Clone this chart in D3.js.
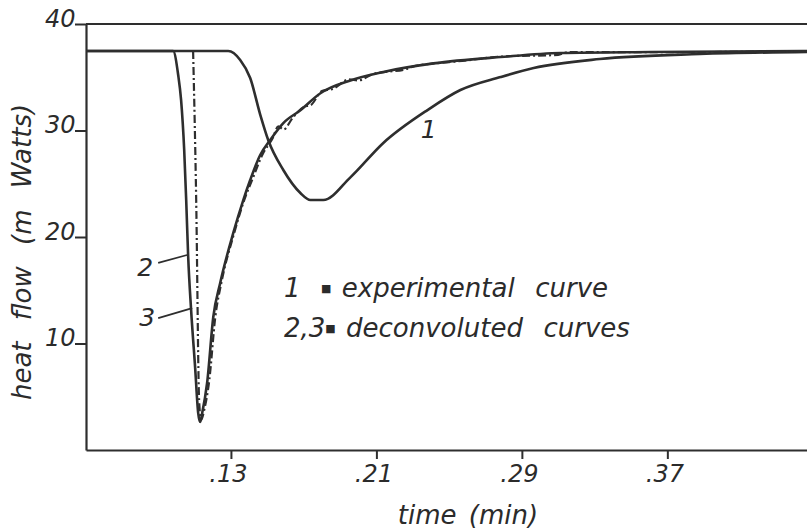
<!DOCTYPE html>
<html>
<head>
<meta charset="utf-8">
<script src="https://cdn.jsdelivr.net/npm/d3@7"></script>
<style>
  body { margin: 0; background: #fff; }
  text { font-family: "DejaVu Sans", sans-serif; font-style: italic; fill: #2b2b2b; }
</style>
</head>
<body>
<script>
// values: time (min), heat flow (mW)
var xTicks = [0.13, 0.21, 0.29, 0.37];
var yTicks = [10, 20, 30, 40];

// curve 1 - experimental
var expTime = [0.0503, 0.1285, 0.1351, 0.1406, 0.1461, 0.1505, 0.1588, 0.1682, 0.1737, 0.1808, 0.1957, 0.2138, 0.2381, 0.2562, 0.2783, 0.2965, 0.3328, 0.3879, 0.4468];
var expFlow = [37.46, 37.46, 36.62, 34.93, 31.5, 29.11, 26.29, 24.13, 23.47, 23.47, 25.6, 28.83, 31.92, 33.8, 35.02, 35.87, 36.71, 37.18, 37.37];

// curve 2 - deconvoluted (solid)
var dec2Time = [0.0503, 0.0982, 0.1010, 0.1026, 0.1043, 0.1054, 0.1065, 0.1081, 0.1103, 0.1120, 0.1131, 0.1142, 0.1169, 0.1203, 0.1241, 0.1313, 0.1368, 0.1406, 0.1461, 0.1516, 0.1588, 0.1682, 0.1792, 0.1957, 0.2138, 0.2414, 0.2783, 0.3113, 0.3609, 0.4468];
var dec2Flow = [37.46, 37.46, 35.21, 32.86, 28.17, 23.47, 18.12, 13.15, 7.79, 3.47, 2.63, 3.47, 6.29, 12.49, 15.68, 20.38, 23.47, 25.35, 27.7, 29.11, 30.7, 31.9, 33.5, 34.7, 35.5, 36.3, 36.9, 37.28, 37.37, 37.46];

// curve 3 - deconvoluted (dash-dot), noisy on the way back up
var dec3Time = [0.1092, 0.1109, 0.1125, 0.1136, 0.1153, 0.1181, 0.1214, 0.1247, 0.1318, 0.1373, 0.1420, 0.1475, 0.1530, 0.1560, 0.1590, 0.1640, 0.1700, 0.1740, 0.1800, 0.1860, 0.1950, 0.2000, 0.2080, 0.2150, 0.2250, 0.2300, 0.2420, 0.2550, 0.2800, 0.3100, 0.3150, 0.3650, 0.4468];
var dec3Flow = [37.46, 23.47, 4.69, 2.82, 3.76, 6.57, 12.49, 15.68, 20.38, 23.47, 25.5, 27.8, 29.3, 30.4, 30.1, 31.2, 32.2, 32.4, 33.7, 33.9, 34.8, 34.7, 35.3, 35.5, 35.7, 36.0, 36.3, 36.5, 36.95, 37.1, 37.35, 37.35, 37.46];

var svg = d3.select("body").append("svg")
  .attr("width", 807)
  .attr("height", 530);

var x = d3.scaleLinear().domain([0.0503, 0.4468]).range([86, 807]);
var y = d3.scaleLinear().domain([0, 40]).range([450, 24]);

var ink = "#2e2e2e";

// frame: top line
svg.append("line")
  .attr("x1", x.range()[0]).attr("x2", x.range()[1])
  .attr("y1", y(40)).attr("y2", y(40))
  .attr("stroke", ink).attr("stroke-width", 2.2);

var xAxis = svg.append("g")
  .attr("transform", "translate(0," + y(0) + ")")
  .call(d3.axisBottom(x).tickValues(xTicks).tickSize(9).tickSizeOuter(0)
    .tickFormat(function(d){ return d3.format(".2f")(d).replace(/^0/, ""); }));

var yAxis = svg.append("g")
  .attr("transform", "translate(" + x.range()[0] + ",0)")
  .call(d3.axisLeft(y).tickValues(yTicks).tickSize(11).tickSizeOuter(0));

[xAxis, yAxis].forEach(function(g){
  g.select(".domain").attr("stroke", ink).attr("stroke-width", 2.2);
  g.selectAll(".tick line").attr("stroke", ink).attr("stroke-width", 2);
  g.selectAll(".tick text").attr("fill", ink).attr("font-size", 24)
    .attr("font-family", "'DejaVu Sans', sans-serif").attr("font-style", "italic");
});
xAxis.selectAll(".tick text").attr("dy", "0.85em").attr("x", -3);
yAxis.selectAll(".tick text").attr("dx", "0.15em").attr("dy", "0.1em");

// curves
var line = d3.line()
  .x(function(d){ return x(d[0]); })
  .y(function(d){ return y(d[1]); })
  .curve(d3.curveMonotoneX);

var zipper = function(ts, vs){ return ts.map(function(t, i){ return [t, vs[i]]; }); };

svg.append("path").datum(zipper(expTime, expFlow))
  .attr("d", line).attr("fill", "none")
  .attr("stroke", ink).attr("stroke-width", 2.6);

svg.append("path").datum(zipper(dec2Time, dec2Flow))
  .attr("d", line).attr("fill", "none")
  .attr("stroke", ink).attr("stroke-width", 2.6);

svg.append("path").datum(zipper(dec3Time, dec3Flow))
  .attr("d", line).attr("fill", "none")
  .attr("stroke", ink).attr("stroke-width", 2.2)
  .attr("stroke-dasharray", "8,3,2,3");

// curve labels + leader lines
var leaders = [
  {lab: "2", t: 0.0828, v: 16.3, from: [0.0900, 17.56], to: [0.1059, 18.31]},
  {lab: "3", t: 0.0839, v: 11.6, from: [0.0900, 12.39], to: [0.1087, 13.33]}
];
leaders.forEach(function(d){
  svg.append("line")
    .attr("x1", x(d.from[0])).attr("y1", y(d.from[1]))
    .attr("x2", x(d.to[0])).attr("y2", y(d.to[1]))
    .attr("stroke", ink).attr("stroke-width", 1.8);
  svg.append("text").attr("x", x(d.t)).attr("y", y(d.v))
    .attr("text-anchor", "middle").attr("font-size", 25).text(d.lab);
});
svg.append("text").attr("x", x(0.2387)).attr("y", y(29.3))
  .attr("text-anchor", "middle").attr("font-size", 25).text("1");

// legend
var leg1 = svg.append("text").attr("x", 284).attr("y", 297).attr("font-size", 26)
  .attr("word-spacing", 2).attr("xml:space", "preserve");
leg1.append("tspan").text("1  ");
leg1.append("tspan").attr("font-size", 11).attr("dy", -5).text("\u25a0");
leg1.append("tspan").attr("dy", 5).text(" experimental  curve");

var leg2 = svg.append("text").attr("x", 284).attr("y", 337).attr("font-size", 26)
  .attr("word-spacing", 2).attr("xml:space", "preserve");
leg2.append("tspan").text("2,3");
leg2.append("tspan").attr("font-size", 11).attr("dy", -5).text("\u25a0");
leg2.append("tspan").attr("dy", 5).text(" deconvoluted  curves");

// axis titles
svg.append("text").attr("x", 468).attr("y", 524)
  .attr("text-anchor", "middle").attr("font-size", 26)
  .attr("word-spacing", 4).text("time (min)");
svg.append("text")
  .attr("transform", "translate(31,252) rotate(-90)")
  .attr("text-anchor", "middle").attr("font-size", 26)
  .attr("word-spacing", 13).text("heat flow (m Watts)");
</script>
</body>
</html>
